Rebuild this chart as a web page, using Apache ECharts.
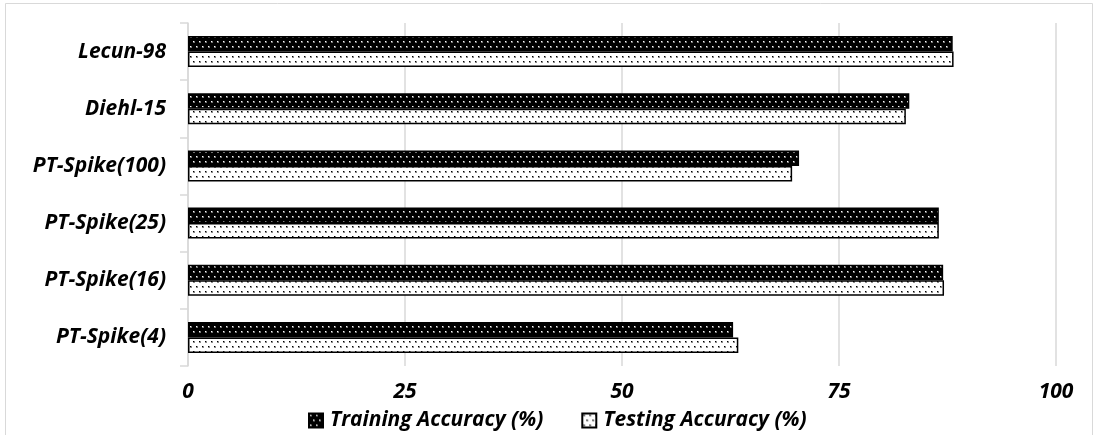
<!DOCTYPE html>
<html>
<head>
<meta charset="utf-8">
<script src="https://cdn.jsdelivr.net/npm/echarts@6/dist/echarts.min.js"></script>
<style>
  html, body { margin: 0; padding: 0; background: #fff; }
  #chart { width: 1094px; height: 435px; }
</style>
</head>
<body>
<div id="chart"></div>
<script>
// Model names, top to bottom
const categories = ['Lecun-98', 'Diehl-15', 'PT-Spike(100)', 'PT-Spike(25)', 'PT-Spike(16)', 'PT-Spike(4)'];
// Accuracy in percent
const trainingAccuracy = [88.1, 83.1, 70.4, 86.5, 87.0, 62.8];
const testingAccuracy = [88.2, 82.7, 69.6, 86.5, 87.1, 63.4];
const seriesNames = ['Training Accuracy (%)', 'Testing Accuracy (%)'];
const xTicks = [0, 25, 50, 75, 100];

const FONT = '"Open Sans"';
const textStyle = { fontFamily: FONT, fontSize: 21, fontWeight: 'bold', fontStyle: 'italic', color: '#000' };

// Dotted fill: small staggered dots on a solid background
function dotPattern(bg, dot) {
  const c = document.createElement('canvas');
  c.width = 6; c.height = 10;
  const g = c.getContext('2d');
  g.fillStyle = bg; g.fillRect(0, 0, 6, 10);
  [[1, 1], [4, 6]].forEach(([x, y]) => {
    g.globalAlpha = 0.45;
    g.fillStyle = dot;
    g.fillRect(x, y, 2, 2);
    g.globalAlpha = 1;
    g.fillRect(x, y, 1, 1);
  });
  return { image: c, repeat: 'repeat' };
}

const chart = echarts.init(document.getElementById('chart'), null, { renderer: 'canvas' });

chart.setOption({
  animation: false,
  backgroundColor: '#fff',
  graphic: [{
    type: 'rect',
    shape: { x: 5.5, y: 3.5, width: 1087, height: 450 },
    style: { fill: 'none', stroke: '#d9d9d9', lineWidth: 1 },
    silent: true
  }],
  grid: { left: 188, right: 38, top: 23, bottom: 69 },
  legend: {
    top: 410,
    left: 308,
    padding: 0,
    itemWidth: 14,
    itemHeight: 14,
    itemGap: 38,
    icon: 'rect',
    textStyle: Object.assign({}, textStyle, { padding: [0, 0, 0, 2] }),
    data: seriesNames
  },
  xAxis: {
    type: 'value',
    min: 0, max: 100, interval: 25,
    axisLine: { show: false },
    axisTick: { show: false },
    splitLine: { lineStyle: { color: '#d9d9d9', width: 1.5 } },
    axisLabel: Object.assign({ margin: 16, formatter: v => xTicks.includes(v) ? String(v) : '' }, textStyle)
  },
  yAxis: {
    type: 'category',
    inverse: true,
    data: categories,
    axisLine: { show: true, lineStyle: { color: '#d9d9d9', width: 1.5 } },
    axisTick: { show: true, length: 8, lineStyle: { color: '#d9d9d9', width: 1.5 } },
    axisLabel: Object.assign({ margin: 22 }, textStyle)
  },
  series: [
    {
      name: seriesNames[0],
      type: 'bar',
      data: trainingAccuracy,
      barWidth: 15.5,
      barGap: '0%',
      itemStyle: { color: dotPattern('#000', '#fff'), borderColor: '#000', borderWidth: 1.5 }
    },
    {
      name: seriesNames[1],
      type: 'bar',
      data: testingAccuracy,
      barWidth: 15.5,
      barGap: '0%',
      itemStyle: { color: dotPattern('#fff', '#000'), borderColor: '#000', borderWidth: 1.5 }
    }
  ]
});
</script>
</body>
</html>
